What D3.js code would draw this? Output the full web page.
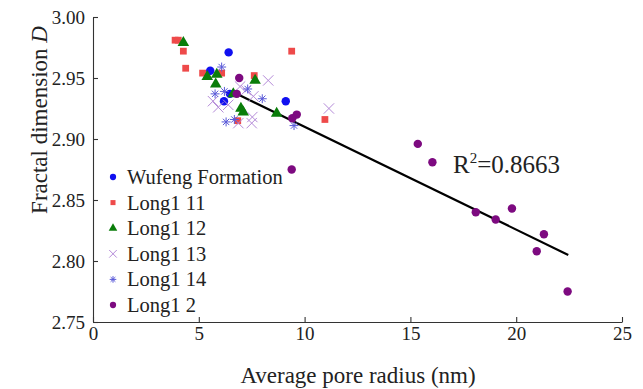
<!DOCTYPE html>
<html>
<head>
<meta charset="utf-8">
<script src="https://cdn.jsdelivr.net/npm/d3@7"></script>
<style>
  body { margin: 0; background: #fff; }
  svg { display: block; }
</style>
</head>
<body>
<div id="chart"></div>
<script>
// series values: [radius nm, D]
var wufeng = [[6.41, 2.971], [5.54, 2.956], [6.47, 2.937], [6.19, 2.931], [9.11, 2.931]];
var long11 = [[3.88, 2.981], [4.03, 2.981], [4.27, 2.972], [4.38, 2.958], [5.18, 2.954],
              [6.08, 2.954], [7.62, 2.952], [9.39, 2.972], [10.96, 2.916], [6.84, 2.915]];
var long12 = [[4.27, 2.979], [5.40, 2.951], [5.85, 2.953], [5.80, 2.945], [7.66, 2.948],
              [6.63, 2.937], [7.10, 2.922], [6.99, 2.925], [8.68, 2.921]];
var long13 = [[8.28, 2.948], [6.95, 2.943], [5.92, 2.926], [6.39, 2.928], [7.58, 2.935],
              [7.53, 2.918], [7.50, 2.913], [6.87, 2.913], [11.15, 2.925], [5.67, 2.931], [7.23, 2.940]];
var long14 = [[6.08, 2.959], [5.77, 2.937], [6.21, 2.939], [7.31, 2.941], [8.00, 2.933],
              [6.29, 2.914], [6.68, 2.916], [9.50, 2.911]];
var long2 = [[6.91, 2.950], [6.79, 2.937], [9.63, 2.920], [9.42, 2.917], [9.39, 2.875],
             [15.35, 2.896], [16.04, 2.881], [18.09, 2.840], [19.03, 2.834], [19.80, 2.843],
             [21.31, 2.822], [20.97, 2.808], [22.43, 2.775]];

// fitted line end points
var trendX = [6.62, 22.46];
var trendY = [2.9385, 2.805];

var seriesNames = ["Wufeng Formation", "Long1 11", "Long1 12", "Long1 13", "Long1 14", "Long1 2"];
var xTicks = [0, 5, 10, 15, 20, 25];
var yTicks = [2.75, 2.80, 2.85, 2.90, 2.95, 3.00];

var serif = "'Liberation Serif', 'Times New Roman', serif";
var width = 643, height = 389;
var svg = d3.select("#chart").append("svg")
    .attr("width", width)
    .attr("height", height)
    .style("font-family", serif);

var x = d3.scaleLinear().domain([0, 25]).range([93, 622]);
var y = d3.scaleLinear().domain([2.75, 3.00]).range([322, 17]);

// 8 armed star (x + plus)
var star = {
    draw: function (ctx, size) {
        var r = Math.sqrt(size) / 2;
        var d = r * 0.7071;
        ctx.moveTo(-r, 0); ctx.lineTo(r, 0);
        ctx.moveTo(0, -r); ctx.lineTo(0, r);
        ctx.moveTo(-d, -d); ctx.lineTo(d, d);
        ctx.moveTo(-d, d); ctx.lineTo(d, -d);
    }
};

var styles = [
    { type: d3.symbolCircle, size: 56, fill: "#1010f0", stroke: "none" },
    { type: d3.symbolSquare, size: 46, fill: "#ee4a4a", stroke: "none" },
    { type: d3.symbolTriangle, size: 58, fill: "#0a7d0a", stroke: "none" },
    { type: d3.symbolTimes, size: 72, fill: "none", stroke: "#b48ad8" },
    { type: star, size: 80, fill: "none", stroke: "#5a5ad8" },
    { type: d3.symbolCircle, size: 56, fill: "#7d0a80", stroke: "none" }
];
var allSeries = [wufeng, long11, long12, long13, long14, long2];

// axes
var xAxis = d3.axisBottom(x).tickValues(xTicks).tickSizeInner(-5).tickSizeOuter(0).tickPadding(5)
    .tickFormat(d3.format("d"));
var yAxis = d3.axisLeft(y).tickValues(yTicks).tickSizeInner(-5).tickSizeOuter(0).tickPadding(8)
    .tickFormat(d3.format(".2f"));

var gx = svg.append("g").attr("transform", "translate(0,322)").call(xAxis);
var gy = svg.append("g").attr("transform", "translate(93,0)").call(yAxis);
[gx, gy].forEach(function (g) {
    g.attr("font-family", serif).attr("font-size", 19);
    g.selectAll("path, line").attr("stroke", "#333").attr("stroke-width", 1.1);
    g.selectAll("text").attr("fill", "#222");
});

// trend line
svg.append("line")
    .attr("x1", x(trendX[0])).attr("y1", y(trendY[0]))
    .attr("x2", x(trendX[1])).attr("y2", y(trendY[1]))
    .attr("stroke", "#000").attr("stroke-width", 2.2);

// points
allSeries.forEach(function (data, i) {
    var s = styles[i];
    svg.append("g").selectAll("path").data(data).enter().append("path")
        .attr("transform", function (d) { return "translate(" + x(d[0]) + "," + y(d[1]) + ")"; })
        .attr("d", d3.symbol().type(s.type).size(s.size))
        .attr("fill", s.fill)
        .attr("stroke", s.stroke)
        .attr("stroke-width", 1);
});

// legend
var legend = svg.append("g");
seriesNames.forEach(function (name, i) {
    var s = styles[i];
    var ly = 177 + i * 25.6;
    legend.append("path")
        .attr("transform", "translate(113," + ly + ")")
        .attr("d", d3.symbol().type(s.type).size(s.size * 0.55))
        .attr("fill", s.fill)
        .attr("stroke", s.stroke)
        .attr("stroke-width", 1);
    legend.append("text")
        .attr("x", 127)
        .attr("y", ly + 7)
        .attr("fill", "#222")
        .style("font-size", "20.5px")
        .text(name);
});

// R squared label
var r2 = svg.append("text")
    .attr("x", 453)
    .attr("y", 173)
    .attr("fill", "#222")
    .style("font-size", "25px");
r2.append("tspan").text("R");
r2.append("tspan").attr("dy", -10).style("font-size", "15px").text("2");
r2.append("tspan").attr("dy", 10).text("=0.8663");

// axis titles
svg.append("text")
    .attr("x", 358)
    .attr("y", 383)
    .attr("text-anchor", "middle")
    .attr("fill", "#222")
    .style("font-size", "23px")
    .text("Average pore radius (nm)");

var yt = svg.append("text")
    .attr("transform", "translate(47,120) rotate(-90)")
    .attr("text-anchor", "middle")
    .attr("fill", "#222")
    .style("font-size", "23px");
yt.append("tspan").text("Fractal dimension ");
yt.append("tspan").style("font-style", "italic").text("D");
</script>
</body>
</html>
